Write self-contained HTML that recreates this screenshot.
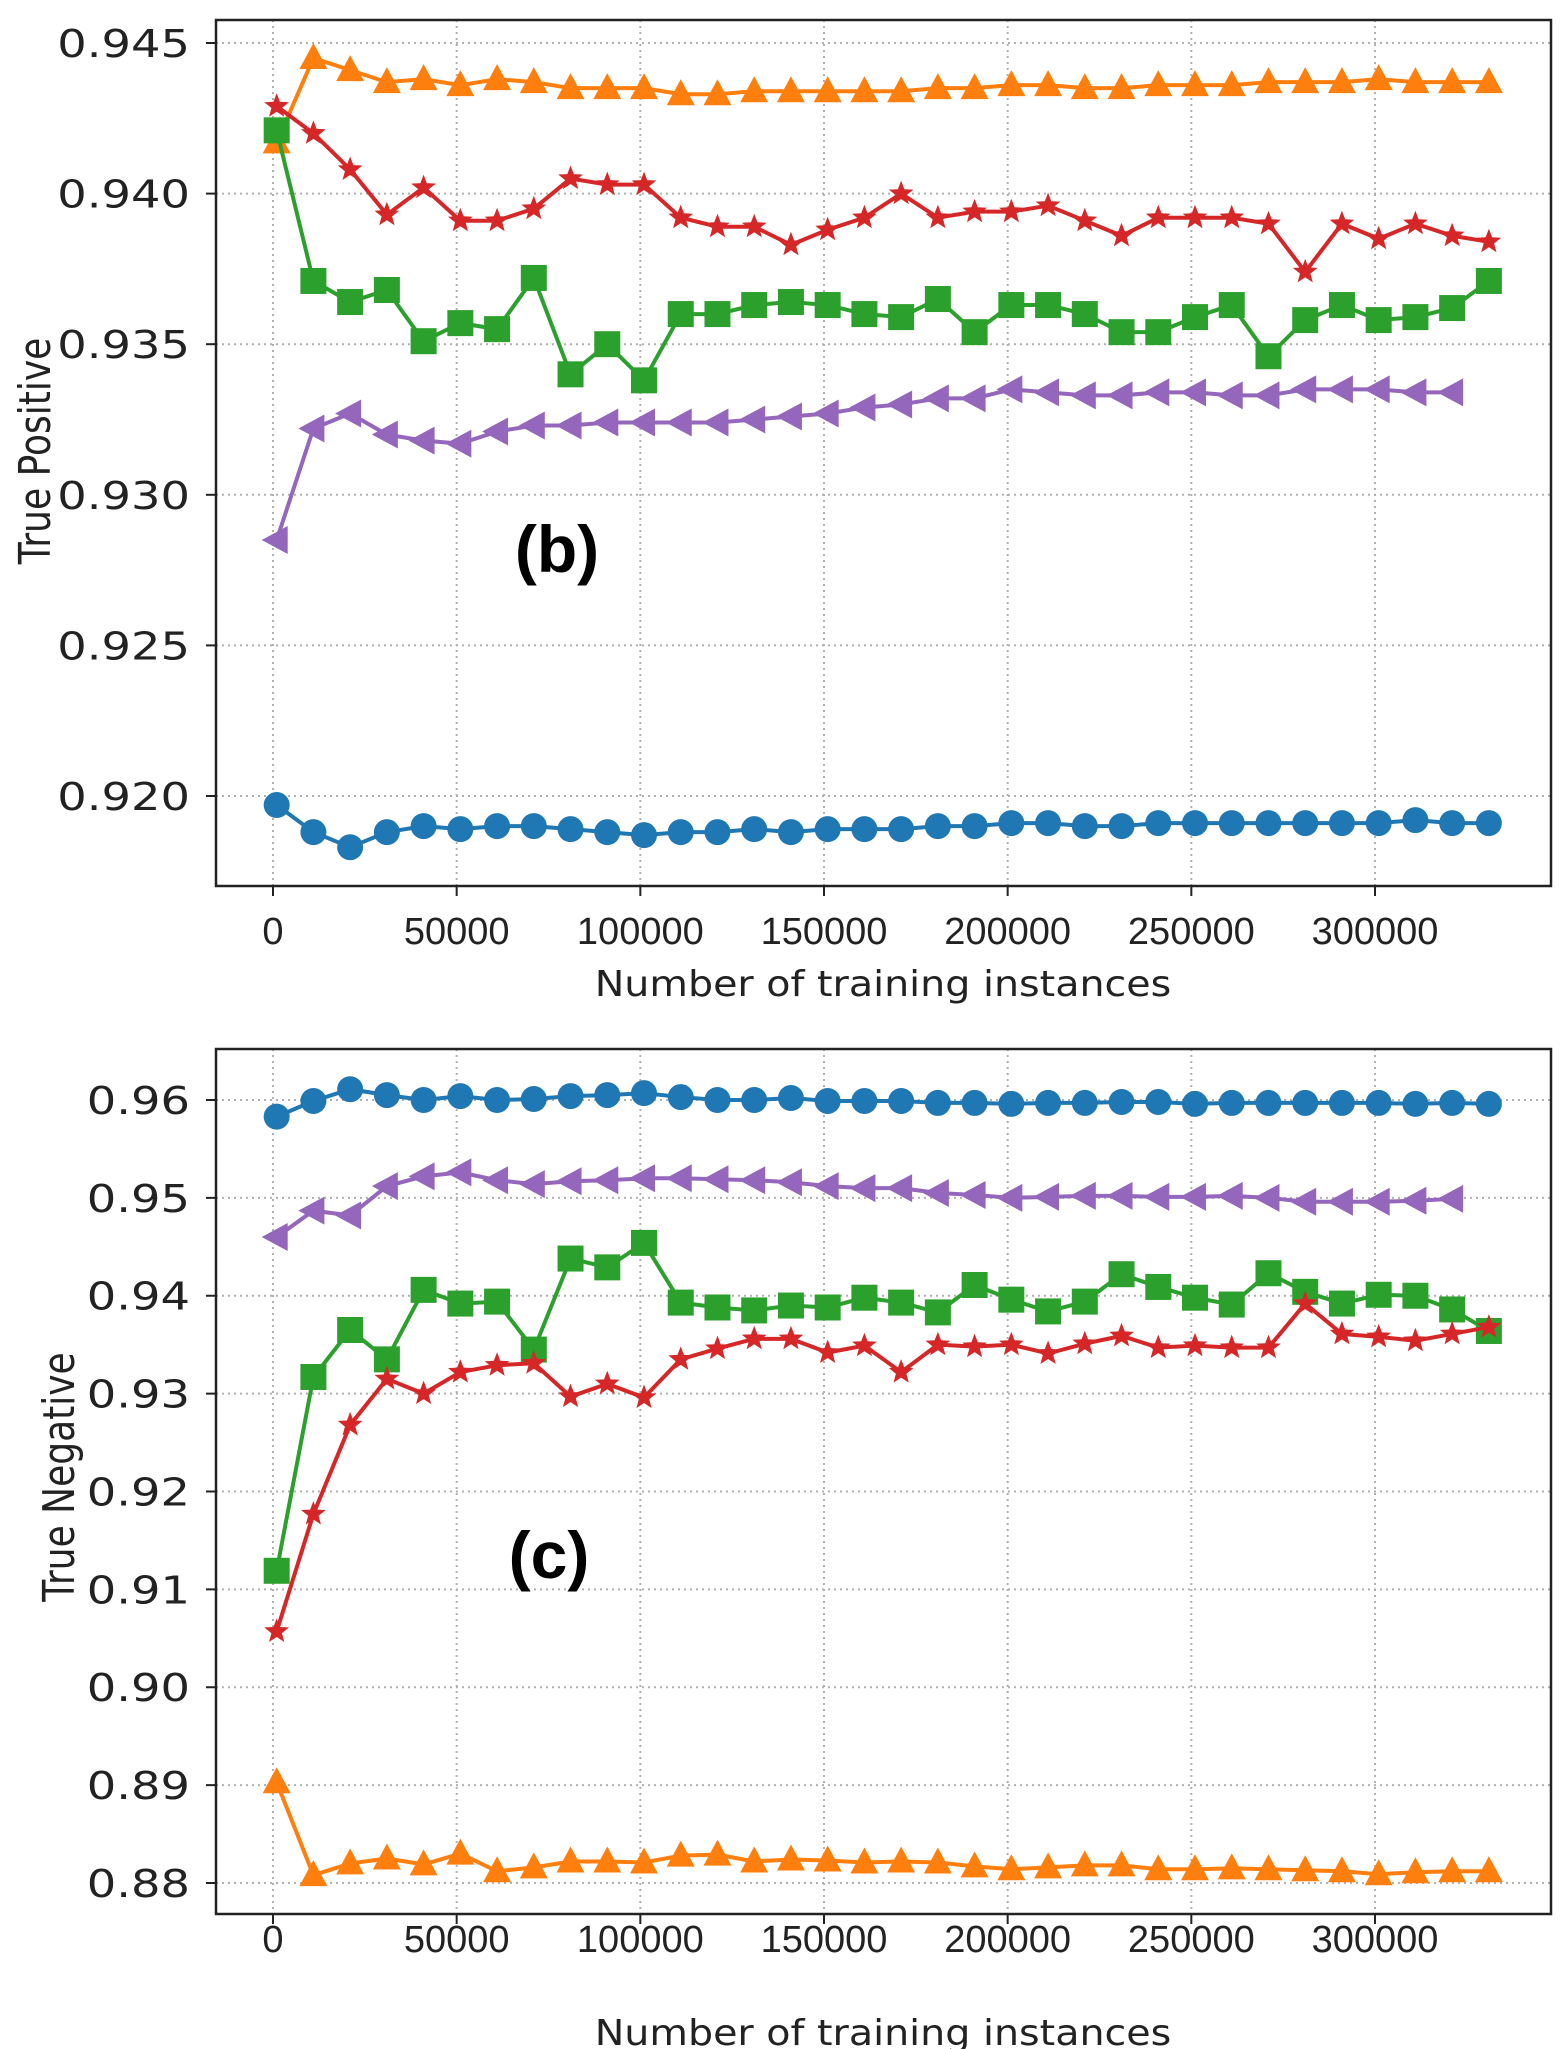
<!DOCTYPE html>
<html><head><meta charset="utf-8"><style>
html,body{margin:0;padding:0;background:#fff;}
svg{display:block;}
text{font-family:"DejaVu Sans","Liberation Sans",sans-serif;fill:#222;}
</style></head><body>
<svg id="chart" width="1568" height="2049" viewBox="0 0 1568 2049" xmlns="http://www.w3.org/2000/svg"></svg>
<script>
const xTicks=[0,50000,100000,150000,200000,250000,300000];
const xTickLabels=["0","50000","100000","150000","200000","250000","300000"];
const tpTicks=[0.920,0.925,0.930,0.935,0.940,0.945];
const tpTickLabels=["0.920","0.925","0.930","0.935","0.940","0.945"];
const tnTicks=[0.88,0.89,0.90,0.91,0.92,0.93,0.94,0.95,0.96];
const tnTickLabels=["0.88","0.89","0.90","0.91","0.92","0.93","0.94","0.95","0.96"];
const xStart=1000, xStep=10000;
const tpBlue=[0.9197,0.9188,0.9183,0.9188,0.9190,0.9189,0.9190,0.9190,0.9189,0.9188,0.9187,0.9188,0.9188,0.9189,0.9188,0.9189,0.9189,0.9189,0.9190,0.9190,0.9191,0.9191,0.9190,0.9190,0.9191,0.9191,0.9191,0.9191,0.9191,0.9191,0.9191,0.9192,0.9191,0.9191];
const tpOrange=[0.9417,0.9445,0.9441,0.9437,0.9438,0.9436,0.9438,0.9437,0.9435,0.9435,0.9435,0.9433,0.9433,0.9434,0.9434,0.9434,0.9434,0.9434,0.9435,0.9435,0.9436,0.9436,0.9435,0.9435,0.9436,0.9436,0.9436,0.9437,0.9437,0.9437,0.9438,0.9437,0.9437,0.9437];
const tpGreen=[0.9421,0.9371,0.9364,0.9368,0.9351,0.9357,0.9355,0.9372,0.9340,0.9350,0.9338,0.9360,0.9360,0.9363,0.9364,0.9363,0.9360,0.9359,0.9365,0.9354,0.9363,0.9363,0.9360,0.9354,0.9354,0.9359,0.9363,0.9346,0.9358,0.9363,0.9358,0.9359,0.9362,0.9371];
const tpRed=[0.9429,0.9420,0.9408,0.9393,0.9402,0.9391,0.9391,0.9395,0.9405,0.9403,0.9403,0.9392,0.9389,0.9389,0.9383,0.9388,0.9392,0.9400,0.9392,0.9394,0.9394,0.9396,0.9391,0.9386,0.9392,0.9392,0.9392,0.9390,0.9374,0.9390,0.9385,0.9390,0.9386,0.9384];
const tpPurple=[0.9285,0.9322,0.9327,0.9320,0.9318,0.9317,0.9321,0.9323,0.9323,0.9324,0.9324,0.9324,0.9324,0.9325,0.9326,0.9327,0.9329,0.9330,0.9332,0.9332,0.9335,0.9334,0.9333,0.9333,0.9334,0.9334,0.9333,0.9333,0.9335,0.9335,0.9335,0.9334,0.9334];
const tnBlue=[0.9583,0.9599,0.9611,0.9605,0.9600,0.9604,0.9600,0.9601,0.9604,0.9605,0.9607,0.9603,0.9600,0.9600,0.9602,0.9599,0.9599,0.9599,0.9597,0.9597,0.9596,0.9597,0.9597,0.9598,0.9598,0.9596,0.9597,0.9597,0.9597,0.9597,0.9597,0.9596,0.9597,0.9596];
const tnPurple=[0.9460,0.9487,0.9482,0.9512,0.9522,0.9526,0.9518,0.9514,0.9517,0.9518,0.9520,0.9520,0.9519,0.9518,0.9516,0.9512,0.9510,0.9510,0.9505,0.9503,0.9500,0.9501,0.9502,0.9502,0.9501,0.9501,0.9502,0.9500,0.9496,0.9496,0.9496,0.9497,0.9499];
const tnGreen=[0.9119,0.9317,0.9365,0.9335,0.9406,0.9392,0.9394,0.9345,0.9438,0.9429,0.9454,0.9393,0.9388,0.9385,0.9390,0.9388,0.9398,0.9393,0.9383,0.9411,0.9396,0.9384,0.9394,0.9422,0.9409,0.9398,0.9391,0.9423,0.9404,0.9392,0.9401,0.9400,0.9386,0.9364];
const tnRed=[0.9057,0.9177,0.9268,0.9315,0.9300,0.9322,0.9329,0.9331,0.9297,0.9310,0.9296,0.9335,0.9346,0.9356,0.9356,0.9342,0.9349,0.9322,0.9350,0.9348,0.9350,0.9341,0.9351,0.9359,0.9347,0.9349,0.9347,0.9347,0.9392,0.9361,0.9358,0.9354,0.9361,0.9368];
const tnOrange=[0.8903,0.8808,0.8820,0.8825,0.8819,0.8830,0.8812,0.8816,0.8822,0.8822,0.8821,0.8828,0.8829,0.8822,0.8824,0.8823,0.8821,0.8822,0.8821,0.8817,0.8814,0.8816,0.8818,0.8818,0.8814,0.8814,0.8815,0.8814,0.8813,0.8812,0.8809,0.8811,0.8812,0.8812];

const NS="http://www.w3.org/2000/svg";
const svg=document.getElementById('chart');
function mk(tag,attrs,parent){const e=document.createElementNS(NS,tag);for(const k in attrs)e.setAttribute(k,attrs[k]);(parent||svg).appendChild(e);return e;}

function panel(cfg){
  const g=mk('g',{});
  
  
  const L=216,R=1551,T=cfg.top,B=cfg.bottom;
  const x0=273,x1=1375;
  const xs=v=>x0+(v/300000)*(x1-x0);
  const ys=v=>cfg.yA.p+(v-cfg.yA.v)*(cfg.yB.p-cfg.yA.p)/(cfg.yB.v-cfg.yA.v);
  xTicks.forEach((t,i)=>{
    const l=mk('line',{x1:xs(t),x2:xs(t),y1:T,y2:B,stroke:'#b0b0b0','stroke-width':2,'stroke-dasharray':'2,4'},g);
    
    
    const tk=mk('line',{x1:xs(t),x2:xs(t),y1:B,y2:B+10,stroke:'#222','stroke-width':2},g);
    
    
    const tx=mk('text',{x:xs(t),y:cfg.xLabelY,'text-anchor':'middle','font-size':38,style:'font-family:"Liberation Sans",sans-serif'},g);
    tx.textContent=xTickLabels[i];
    
    
  });
  cfg.ticks.forEach((t,i)=>{
    const y=ys(t);
    const l=mk('line',{x1:L,x2:R,y1:y,y2:y,stroke:'#b0b0b0','stroke-width':2,'stroke-dasharray':'2,4'},g);
    
    
    const tk=mk('line',{x1:L-10,x2:L,y1:y,y2:y,stroke:'#222','stroke-width':2},g);
    
    
    const tx=mk('text',{x:190,y:y+14,'text-anchor':'end','font-size':38,transform:`translate(190,0) scale(1.22,1) translate(-190,0)`},g);
    tx.textContent=cfg.labels[i];
    
    
  });
  const box=mk('rect',{x:L,y:T,width:R-L,height:B-T,fill:'none',stroke:'#222','stroke-width':2.5},g);
  
  
  cfg.series.forEach(s=>{
    const sg=mk('g',{},g);
    
    
    const pts=s.data.map((v,i)=>[xs(xStart+i*xStep),ys(v)]);
    const pl=mk('polyline',{points:pts.map(p=>p.join(',')).join(' '),fill:'none',stroke:s.color,'stroke-width':4},sg);
    
    
    pts.forEach(([x,y])=>{
      let m;
      if(s.marker==='circle') m=mk('circle',{cx:x,cy:y,r:13,fill:s.color},sg);
      else if(s.marker==='square') m=mk('rect',{x:x-13,y:y-13,width:26,height:26,fill:s.color},sg);
      else if(s.marker==='tri-up') m=mk('polygon',{points:`${x},${y-15} ${x+14},${y+11} ${x-14},${y+11}`,fill:s.color},sg);
      else if(s.marker==='tri-left') m=mk('polygon',{points:`${x-15},${y} ${x+11},${y-14} ${x+11},${y+14}`,fill:s.color},sg);
      else { let p=[];for(let k=0;k<10;k++){const r=k%2?5.5:13;const a=-Math.PI/2+k*Math.PI/5;p.push((x+r*Math.cos(a)).toFixed(1)+','+(y+r*Math.sin(a)).toFixed(1));}
        m=mk('polygon',{points:p.join(' '),fill:s.color},sg);}
      
      
    });
  });
  const xt=mk('text',{x:883,y:cfg.xTitleY,'text-anchor':'middle','font-size':36,transform:`translate(883,0) scale(1.1,1) translate(-883,0)`},g);
  xt.textContent='Number of training instances';
  
  
  const yt=mk('text',{x:0,y:0,'text-anchor':'middle','font-size':36,transform:`translate(${cfg.yTitleX},${cfg.yTitleY}) rotate(-90) scale(1,1.2)`},g);
  yt.textContent=cfg.yTitle;
  
  
  const pl=mk('text',{x:cfg.panelX,y:cfg.panelY,'text-anchor':'middle','font-size':66,'font-weight':'bold',style:'font-family:"Liberation Sans",sans-serif;fill:#000'},g);
  pl.textContent=cfg.panelLabel;
  
  
}
panel({name:'true-positive-panel',top:20,bottom:886,yA:{v:0.945,p:43},yB:{v:0.920,p:796},ticks:tpTicks,labels:tpTickLabels,xLabelY:944,xTitleY:996,yTitle:'True Positive',yTitleX:50,yTitleY:451,panelLabel:'(b)',panelX:557,panelY:572,
  series:[{name:'blue-series',data:tpBlue,color:'#1f77b4',marker:'circle'},{name:'orange-series',data:tpOrange,color:'#ff7f0e',marker:'tri-up'},{name:'green-series',data:tpGreen,color:'#2ca02c',marker:'square'},{name:'red-series',data:tpRed,color:'#d62728',marker:'star'},{name:'purple-series',data:tpPurple,color:'#9467bd',marker:'tri-left'}]});
panel({name:'true-negative-panel',top:1049,bottom:1914,yA:{v:0.96,p:1100},yB:{v:0.88,p:1883},ticks:tnTicks,labels:tnTickLabels,xLabelY:1952,xTitleY:2045,yTitle:'True Negative',yTitleX:74,yTitleY:1477,panelLabel:'(c)',panelX:549,panelY:1578,
  series:[{name:'blue-series',data:tnBlue,color:'#1f77b4',marker:'circle'},{name:'orange-series',data:tnOrange,color:'#ff7f0e',marker:'tri-up'},{name:'green-series',data:tnGreen,color:'#2ca02c',marker:'square'},{name:'red-series',data:tnRed,color:'#d62728',marker:'star'},{name:'purple-series',data:tnPurple,color:'#9467bd',marker:'tri-left'}]});
</script>
</body></html>
